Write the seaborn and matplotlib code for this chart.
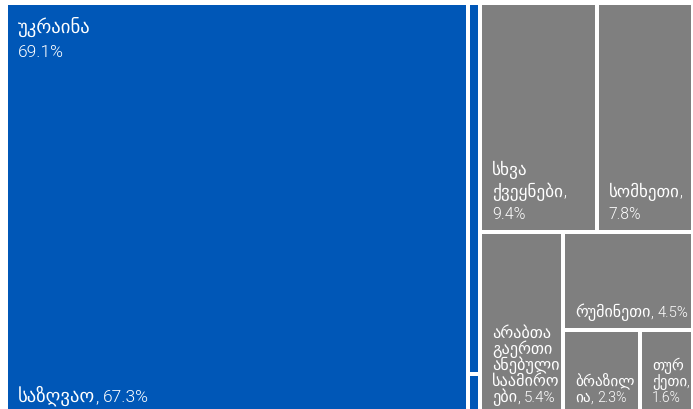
import numpy as np
import matplotlib
matplotlib.use("Agg")
import matplotlib.pyplot as plt
import seaborn as sns
from matplotlib.patches import Rectangle
from matplotlib.font_manager import FontProperties

sns.set_theme(style="white")
plt.rcParams['font.family'] = ['Roboto', 'DejaVu Sans']

# ---- data ----
countries = ["უკრაინა", "სხვა ქვეყნები", "სომხეთი",
             "არაბთა გაერთიანებული საამიროები", "რუმინეთი", "ბრაზილია", "თურქეთი"]
country_values = [69.1, 9.4, 7.8, 5.4, 4.5, 2.3, 1.6]
ukraine_modes = ["საზღვაო", "სარკინიგზო", "საავტომობილო"]
ukraine_values = [67.3, 1.62, 0.18]

BLUE = "#0057b7"
GREY = "#7f7f7f"

W, H = 693, 410
fig = plt.figure(figsize=(W / 100, H / 100), dpi=100)
ax = fig.add_axes([0, 0, 1, 1])
ax.set_xlim(0, W)
ax.set_ylim(H, 0)
ax.axis("off")

# treemap area (data units = pixels)
AX0, AY0, AX1, AY1 = 6, 4, 693, 416
GAP = 2


def binary(values, x0, y0, x1, y1, depth=0):
    """Binary treemap with alternating split direction."""
    n = len(values)
    if n == 1:
        return [(x0, y0, x1, y1)]
    sums = np.concatenate([[0], np.cumsum(values)])
    total = sums[-1]
    target = total / 2
    k = 1
    while k < n - 1 and sums[k] < target:
        k += 1
    if k > 1 and (target - sums[k - 1]) < (sums[k] - target):
        k -= 1
    frac = sums[k] / total
    if depth % 2 == 0:
        xm = x0 + (x1 - x0) * frac
        return (binary(values[:k], x0, y0, xm, y1, depth + 1)
                + binary(values[k:], xm, y0, x1, y1, depth + 1))
    ym = y0 + (y1 - y0) * frac
    return (binary(values[:k], x0, y0, x1, ym, depth + 1)
            + binary(values[k:], x0, ym, x1, y1, depth + 1))


renderer = fig.canvas.get_renderer()


def tw(s, fp):
    w, h, d = renderer.get_text_width_height_descent(s, fp, ismath=False)
    return w


def is_geo(c):
    return "\u10a0" <= c <= "\u10ff"


def segments(s):
    segs = []
    for c in s:
        kind = "sp" if c == " " else ("g" if is_geo(c) else "n")
        if segs and segs[-1][1] == kind:
            segs[-1][0] += c
        else:
            segs.append([c, kind])
    return segs


class Style:
    def __init__(self, num_pt, geo_ratio=1.08):
        self.fpn = FontProperties(family="Roboto", size=num_pt, weight=300)
        self.fpg = FontProperties(family="DejaVu Sans", size=num_pt * geo_ratio)
        self.bar_n = tw("||", self.fpn)
        self.bar_g = tw("||", self.fpg)
        self.space = tw("| |", self.fpn) - self.bar_n

    def adv(self, t, k):
        if k == "g":
            return tw("|" + t + "|", self.fpg) - self.bar_g
        return tw("|" + t + "|", self.fpn) - self.bar_n

    def width(self, s):
        w = 0
        for t, k in segments(s):
            w += len(t) * self.space if k == "sp" else self.adv(t, k)
        return w

    def draw_line(self, x, y, s):
        for t, k in segments(s):
            if k == "sp":
                x += len(t) * self.space
                continue
            fp = self.fpg if k == "g" else self.fpn
            ax.text(x, y, t, fontproperties=fp, color="white", ha="left", va="baseline")
            x += self.adv(t, k)


def wrap(text, maxw, st):
    words = text.split(" ")
    lines, cur = [], ""
    for w in words:
        cand = w if cur == "" else cur + " " + w
        if st.width(cand) <= maxw:
            cur = cand
            continue
        if cur:
            lines.append(cur)
            cur = ""
        while st.width(w) > maxw and len(w) > 1:
            i = len(w)
            while i > 1 and st.width(w[:i]) > maxw:
                i -= 1
            lines.append(w[:i])
            w = w[i:]
        cur = w
    if cur:
        lines.append(cur)
    return lines


def fmt(v):
    return f"{v:.1f}%"


def style_for(v):
    pt = min(8.95 + 0.83 * np.sqrt(v), 12.5)
    return Style(pt), (22 if pt >= 11.1 else 16)


PADL, PADR, PADB = 10, 1, 12


def leaf_label(text, v, x0, y0, x1, y1):
    st, lh = style_for(v)
    lines = wrap(text, x1 - x0 - PADL - PADR, st)
    yb = y1 - PADB
    for i, line in enumerate(reversed(lines)):
        st.draw_line(x0 + PADL, yb - i * lh, line)


rects = binary(country_values, AX0, AY0, AX1, AY1)

for name, val, (x0, y0, x1, y1) in zip(countries, country_values, rects):
    if name == "უკრაინა":
        sub = binary(ukraine_values, x0, y0, x1, y1)
        for sname, sval, (sx0, sy0, sx1, sy1) in zip(ukraine_modes, ukraine_values, sub):
            tx0, ty0, tx1, ty1 = sx0 + GAP, sy0 + GAP, sx1 - GAP, sy1 - GAP
            ax.add_patch(Rectangle((tx0, ty0), tx1 - tx0, ty1 - ty0,
                                   facecolor=BLUE, edgecolor="none"))
            if tx1 - tx0 > 60:
                leaf_label(f"{sname}, {fmt(sval)}", sval, tx0, ty0, tx1, ty1)
        st, _ = style_for(val)
        st.draw_line(x0 + GAP + PADL, y0 + GAP + 27, name)
        st.draw_line(x0 + GAP + PADL, y0 + GAP + 51, fmt(val))
    else:
        tx0, ty0, tx1, ty1 = x0 + GAP, y0 + GAP, x1 - GAP, y1 - GAP
        ax.add_patch(Rectangle((tx0, ty0), tx1 - tx0, ty1 - ty0,
                               facecolor=GREY, edgecolor="none"))
        leaf_label(f"{name}, {fmt(val)}", val, tx0, ty0, tx1, ty1)

fig.savefig("out.png", dpi=100)
